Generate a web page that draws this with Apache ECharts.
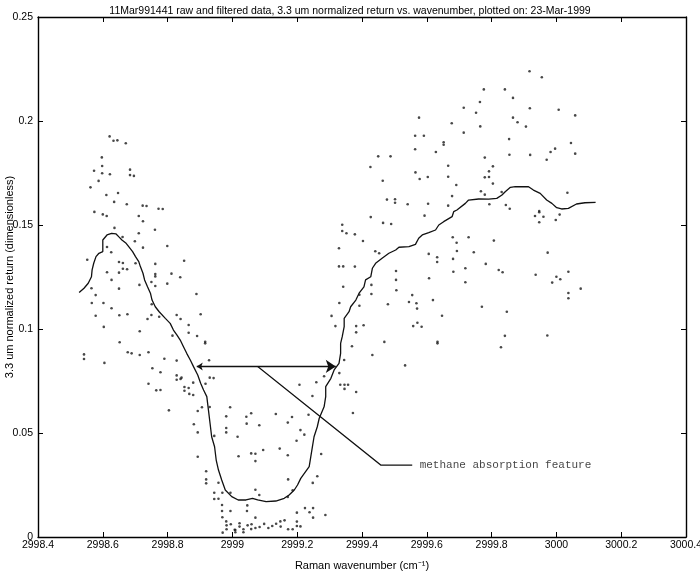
<!DOCTYPE html>
<html><head><meta charset="utf-8">
<script src="https://cdn.jsdelivr.net/npm/echarts@6/dist/echarts.min.js"></script>
<style>html,body{margin:0;padding:0;background:#fff}#c{width:700px;height:571px}</style>
</head><body><div id="c"></div><script>
const titleText = '11Mar991441 raw and filtered data, 3.3 um normalized return vs. wavenumber, plotted on: 23-Mar-1999';
const xName = 'Raman wavenumber (cm\u207B\u00B9)';
const yName = '3.3 um normalized return (dimensionless)';
const xRange = [2998.4, 3000.4, 0.2];
const yRange = [0, 0.25, 0.05];

// raw data points [wavenumber, normalized return]
const rawLeft = [
[2998.621,0.1926],[2998.633,0.1905],[2998.645,0.1907],[2998.671,0.1893],[2998.597,0.1825],[2998.598,0.1784],
[2998.573,0.1761],[2998.598,0.1749],[2998.622,0.1744],[2998.684,0.1766],[2998.684,0.1740],[2998.696,0.1736],
[2998.587,0.1712],[2998.562,0.1681],[2998.647,0.1654],[2998.611,0.1644],[2998.635,0.1611],[2998.674,0.1600],
[2998.723,0.1593],[2998.735,0.1591],[2998.772,0.1578],[2998.785,0.1577],[2998.574,0.1563],[2998.600,0.1551],
[2998.612,0.1543],[2998.711,0.1543],[2998.724,0.1518],[2998.761,0.1477],[2998.636,0.1486],[2998.661,0.1442],
[2998.711,0.1460],[2998.699,0.1422],[2998.613,0.1394],[2998.626,0.1369],[2998.724,0.1391],[2998.799,0.1399],
[2998.552,0.1333],[2998.650,0.1322],[2998.662,0.1317],[2998.662,0.1290],[2998.675,0.1287],[2998.650,0.1271],
[2998.613,0.1273],[2998.701,0.1316],[2998.762,0.1313],[2998.851,0.1328],[2998.762,0.1264],[2998.762,0.1253],
[2998.812,0.1266],[2998.839,0.1249],[2998.627,0.1236],[2998.713,0.1212],[2998.750,0.1226],[2998.762,0.1207],
[2998.799,0.1218],[2998.650,0.1194],[2998.565,0.1196],[2998.578,0.1163],[2998.566,0.1125],[2998.602,0.1125],
[2998.627,0.1100],[2998.889,0.1168],[2998.578,0.1064],[2998.651,0.1066],[2998.676,0.1071],[2998.750,0.1067],
[2998.774,0.1059],[2998.828,0.1067],[2998.840,0.1048],[2998.902,0.1071],[2998.738,0.1048],[2998.751,0.1119],
[2998.603,0.1010],[2998.714,0.0989],[2998.652,0.0936],[2998.677,0.0888],[2998.689,0.0883],[2998.714,0.0875],
[2998.741,0.0888],[2998.542,0.0878],[2998.542,0.0856],[2998.605,0.0837],[2998.790,0.0857],[2998.753,0.0811],
[2998.778,0.0792],[2998.828,0.0848],[2998.865,0.1019],[2998.865,0.0982],[2998.815,0.0968],[2998.891,0.0966],
[2998.916,0.0939],[2998.916,0.0931],[2998.928,0.0850],[2998.828,0.0777],[2998.828,0.0756],[2998.840,0.0760],
[2998.843,0.0766],[2998.741,0.0737],[2998.765,0.0705],[2998.778,0.0707],[2998.852,0.0721],[2998.865,0.0716],
[2998.852,0.0703],[2998.867,0.0688],[2998.879,0.0683],[2998.879,0.0742],[2998.917,0.0737],[2998.930,0.0766],
[2998.942,0.0764],[2998.804,0.0609],[2998.893,0.0606],[2998.906,0.0624],[2998.930,0.0625],[2998.993,0.0624],
[2998.881,0.0542],[2998.893,0.0503],[2998.981,0.0580],[2998.981,0.0524],[2998.981,0.0503],[2998.944,0.0486],
[2999.016,0.0482],[2998.893,0.0386],[2998.919,0.0316],[2998.919,0.0277],[2998.919,0.0258],[2998.957,0.0261],
[2998.944,0.0213],[2998.944,0.0183],[2998.969,0.0213],[2998.957,0.0184],[2998.994,0.0213],[2998.968,0.0154],
[2998.968,0.0125],[2998.994,0.0125],[2998.969,0.0095],[2998.981,0.0075],[2998.982,0.0056],[2998.982,0.0037],
[2998.995,0.0061],[2999.007,0.0035],[2998.970,0.0021]
];
const rawMiddle = [
[2999.330,0.1125],[2999.392,0.1112],[2999.480,0.1119],[2999.545,0.1130],[2999.568,0.1124],[2999.570,0.1098],
[2999.306,0.1063],[2999.318,0.1014],[2999.382,0.1014],[2999.405,0.1018],[2999.382,0.0984],[2999.558,0.1014],
[2999.571,0.1030],[2999.584,0.1011],[2999.469,0.0938],[2999.369,0.0917],[2999.432,0.0875],[2999.345,0.0851],
[2999.533,0.0825],[2999.330,0.0788],[2999.283,0.0773],[2999.259,0.0744],[2999.207,0.0732],[2999.333,0.0732],
[2999.346,0.0732],[2999.357,0.0732],[2999.346,0.0712],[2999.382,0.0697],[2999.247,0.0678],[2999.043,0.0578],
[2999.058,0.0595],[2999.134,0.0591],[2999.184,0.0577],[2999.235,0.0588],[2999.372,0.0596],[2999.044,0.0545],
[2999.083,0.0537],[2999.171,0.0550],[2999.210,0.0514],[2999.222,0.0492],[2999.198,0.0463],[2999.095,0.0418],
[2999.146,0.0425],[2999.058,0.0402],[2999.071,0.0400],[2999.071,0.0365],[2999.019,0.0388],[2999.171,0.0393],
[2999.274,0.0399],[2999.262,0.0292],[2999.248,0.0260],[2999.172,0.0277],[2999.071,0.0227],[2999.083,0.0202],
[2999.186,0.0225],[2999.171,0.0192],[2999.046,0.0152],[2999.045,0.0125],[2999.071,0.0093],[2999.199,0.0117],
[2999.224,0.0139],[2999.238,0.0119],[2999.249,0.0139],[2999.249,0.0093],[2999.287,0.0106],
[2999.009,0.0034],[2999.022,0.0050],[2999.022,0.0066],[2999.034,0.0037],[2999.047,0.0056],[2999.058,0.0038],
[2999.059,0.0061],[2999.071,0.0043],[2999.084,0.0048],[2999.098,0.0063],[2999.111,0.0043],[2999.123,0.0053],
[2999.135,0.0064],[2999.148,0.0075],[2999.149,0.0050],[2999.161,0.0080],[2999.172,0.0037],[2999.186,0.0037],
[2999.199,0.0074],[2999.199,0.0053],[2999.210,0.0051],[2999.009,0.0023],[2999.034,0.0023]
];
const rawRight = [
[2999.776,0.2152],[2999.841,0.2152],[2999.764,0.2091],[2999.714,0.2064],[2999.752,0.2040],[2999.576,0.2016],
[2999.677,0.1989],[2999.765,0.1974],[2999.714,0.1944],[2999.564,0.1929],[2999.591,0.1929],[2999.652,0.1898],
[2999.652,0.1886],[2999.564,0.1864],[2999.628,0.1851],[2999.450,0.1830],[2999.488,0.1830],[2999.779,0.1824],
[2999.426,0.1779],[2999.666,0.1785],[2999.804,0.1782],[2999.792,0.1758],[2999.565,0.1753],[2999.578,0.1721],
[2999.603,0.1731],[2999.666,0.1732],[2999.779,0.1729],[2999.792,0.1731],[2999.464,0.1713],[2999.804,0.1699],
[2999.691,0.1692],[2999.767,0.1662],[2999.779,0.1646],[2999.831,0.1659],[2999.678,0.1639],[2999.477,0.1622],
[2999.502,0.1624],[2999.502,0.1607],[2999.541,0.1600],[2999.604,0.1602],[2999.666,0.1593],[2999.793,0.1600],
[2999.844,0.1596],[2999.427,0.1538],[2999.593,0.1545],[2999.339,0.1501],[2999.465,0.1510],[2999.490,0.1505],
[2999.339,0.1471],[2999.352,0.1460],[2999.378,0.1455],[2999.403,0.1423],[2999.680,0.1441],[2999.692,0.1415],
[2999.729,0.1441],[2999.807,0.1425],[2999.329,0.1388],[2999.441,0.1374],[2999.453,0.1364],[2999.693,0.1375],
[2999.745,0.1369],[2999.606,0.1361],[2999.632,0.1345],[2999.632,0.1322],[2999.681,0.1337],[2999.782,0.1313],
[2999.329,0.1301],[2999.342,0.1301],[2999.378,0.1300],[2999.505,0.1279],[2999.719,0.1292],[2999.682,0.1275],
[2999.822,0.1284],[2999.834,0.1273],[2999.505,0.1236],[2999.607,0.1244],[2999.719,0.1225],[2999.342,0.1203],
[2999.429,0.1212],[2999.429,0.1168],[2999.506,0.1186],[2999.392,0.1165],[2999.555,0.1163],[2999.619,0.1139],
[2999.770,0.1107],[2999.847,0.1083],[2999.647,0.1064],
[2999.917,0.2239],[2999.955,0.2210],[2999.866,0.2111],[2999.918,0.2061],[3000.007,0.2054],[3000.058,0.2027],
[2999.866,0.2016],[2999.880,0.1994],[2999.906,0.1973],[2999.854,0.1913],[3000.045,0.1894],[2999.996,0.1867],
[2999.982,0.1851],[2999.855,0.1838],[2999.919,0.1837],[3000.058,0.1843],[2999.970,0.1814],[3000.034,0.1655],
[2999.856,0.1578],[2999.947,0.1567],[2999.947,0.1561],[2999.934,0.1543],[2999.960,0.1540],[2999.947,0.1513],
[3000.010,0.1550],[2999.998,0.1524],[2999.973,0.1367],[2999.936,0.1261],[3000.037,0.1275],[3000.000,0.1251],
[3000.012,0.1239],[2999.987,0.1223],[3000.075,0.1194],[3000.037,0.1173],[3000.037,0.1148],
[2999.633,0.0939],[2999.633,0.0931],[2999.841,0.0967],[2999.972,0.0969],[2999.829,0.0912]
];

// filtered curve
const filtered = [
[2998.527,0.1175],[2998.542,0.1196],[2998.555,0.1220],[2998.565,0.1251],[2998.567,0.1284],[2998.572,0.1316],
[2998.579,0.1348],[2998.588,0.1364],[2998.600,0.1372],[2998.600,0.1428],[2998.613,0.1452],[2998.627,0.1460],
[2998.641,0.1457],[2998.649,0.1444],[2998.659,0.1428],[2998.672,0.1412],[2998.680,0.1396],[2998.692,0.1372],
[2998.701,0.1348],[2998.711,0.1324],[2998.716,0.1300],[2998.724,0.1268],[2998.729,0.1236],[2998.738,0.1203],
[2998.747,0.1172],[2998.752,0.1139],[2998.762,0.1107],[2998.774,0.1083],[2998.793,0.1051],[2998.808,0.1027],
[2998.818,0.0995],[2998.829,0.0971],[2998.839,0.0947],[2998.849,0.0915],[2998.859,0.0883],[2998.870,0.0851],
[2998.880,0.0819],[2998.893,0.0779],[2998.902,0.0739],[2998.911,0.0707],[2998.921,0.0675],[2998.926,0.0611],
[2998.931,0.0547],[2998.936,0.0482],[2998.945,0.0434],[2998.950,0.0370],[2998.957,0.0322],[2998.967,0.0274],
[2998.978,0.0226],[2998.998,0.0194],[2999.018,0.0178],[2999.042,0.0178],[2999.062,0.0186],[2999.078,0.0178],
[2999.104,0.0170],[2999.134,0.0173],[2999.160,0.0186],[2999.175,0.0202],[2999.191,0.0226],[2999.201,0.0250],
[2999.211,0.0282],[2999.222,0.0306],[2999.237,0.0338],[2999.242,0.0386],[2999.247,0.0434],[2999.252,0.0482],
[2999.262,0.0530],[2999.268,0.0571],[2999.283,0.0626],[2999.288,0.0675],[2999.288,0.0723],[2999.304,0.0763],
[2999.314,0.0803],[2999.329,0.0835],[2999.334,0.0883],[2999.334,0.0931],[2999.339,0.0963],[2999.345,0.1011],
[2999.345,0.1051],[2999.360,0.1083],[2999.365,0.1107],[2999.381,0.1139],[2999.391,0.1172],[2999.406,0.1203],
[2999.411,0.1236],[2999.427,0.1251],[2999.432,0.1292],[2999.442,0.1316],[2999.462,0.1340],[2999.483,0.1364],
[2999.504,0.1380],[2999.514,0.1393],[2999.545,0.1396],[2999.565,0.1407],[2999.575,0.1436],[2999.586,0.1452],
[2999.606,0.1463],[2999.627,0.1476],[2999.637,0.1500],[2999.652,0.1516],[2999.678,0.1540],[2999.683,0.1564],
[2999.693,0.1572],[2999.719,0.1604],[2999.729,0.1620],[2999.760,0.1625],[2999.791,0.1624],[2999.816,0.1628],
[2999.832,0.1644],[2999.842,0.1660],[2999.858,0.1681],[2999.873,0.1684],[2999.914,0.1684],[2999.929,0.1668],
[2999.950,0.1652],[2999.970,0.1620],[2999.986,0.1604],[3000.001,0.1583],[3000.016,0.1577],[3000.037,0.1580],
[3000.062,0.1601],[3000.088,0.1607],[3000.121,0.1609]
];

// annotation
const arrowSpan = [[2998.890,0.0820],[2999.319,0.0820]];
const leader = [[2999.078,0.0820],[2999.458,0.0346],[2999.555,0.0346]];
const noteText = 'methane absorption feature';
const notePos = [2999.578,0.0346];

const FONT = "'Liberation Sans Narrow','Liberation Sans',Arial,sans-serif";
const chart = echarts.init(document.getElementById('c'));
const axisBase = {
  axisLine:{show:true,onZero:false,lineStyle:{color:'#000',width:1.4}},
  axisTick:{show:true,inside:true,length:5,lineStyle:{color:'#000',width:1}},
  splitLine:{show:false}
};
chart.setOption({
  backgroundColor:'#fff',
  animation:false,
  title:{text:titleText,left:'center',top:1,textStyle:{fontFamily:FONT,fontSize:10.5,fontWeight:'normal',color:'#000'}},
  grid:{left:38,right:14,top:17,bottom:34,containLabel:false,outerBoundsMode:'none'},
  xAxis:[
    Object.assign({type:'value',min:xRange[0],max:xRange[1],interval:xRange[2],position:'bottom',
      name:xName,nameLocation:'middle',nameGap:23,nameMoveOverlap:false,nameTextStyle:{fontFamily:FONT,fontSize:11,color:'#000'},
      axisLabel:{fontFamily:FONT,fontSize:10.5,color:'#000',margin:3,formatter:v=>String(+v.toFixed(1))}},axisBase),
    Object.assign({type:'value',min:xRange[0],max:xRange[1],interval:xRange[2],position:'top',axisLabel:{show:false}},axisBase)
  ],
  yAxis:[
    Object.assign({type:'value',min:yRange[0],max:yRange[1],interval:yRange[2],position:'left',
      name:yName,nameLocation:'middle',nameGap:23,nameMoveOverlap:false,nameTextStyle:{fontFamily:FONT,fontSize:11,color:'#000'},
      axisLabel:{fontFamily:FONT,fontSize:10.5,color:'#000',margin:5,formatter:v=>String(+v.toFixed(2))}},axisBase),
    Object.assign({type:'value',min:yRange[0],max:yRange[1],interval:yRange[2],position:'right',axisLabel:{show:false}},axisBase)
  ],
  series:[
    {type:'scatter',data:rawLeft.concat(rawMiddle,rawRight),symbol:'circle',symbolSize:2.6,
      itemStyle:{color:'#1a1a1a'},silent:true},
    {type:'line',data:filtered,showSymbol:false,symbol:'none',lineStyle:{color:'#111',width:1.3},silent:true},
    {type:'lines',coordinateSystem:'cartesian2d',symbol:['arrow','arrow'],symbolSize:[6,10],
      lineStyle:{color:'#111',width:1.3,opacity:1},data:[{coords:arrowSpan}],silent:true},
    {type:'lines',coordinateSystem:'cartesian2d',polyline:true,symbol:'none',
      lineStyle:{color:'#111',width:1.2,opacity:1},data:[{coords:leader}],silent:true},
    {type:'scatter',data:[notePos],symbolSize:0,silent:true,
      label:{show:true,position:'right',distance:0,formatter:noteText,
        fontFamily:"'Liberation Mono','DejaVu Sans Mono',monospace",fontSize:11,color:'#111'}}
  ]
});
</script></body></html>
